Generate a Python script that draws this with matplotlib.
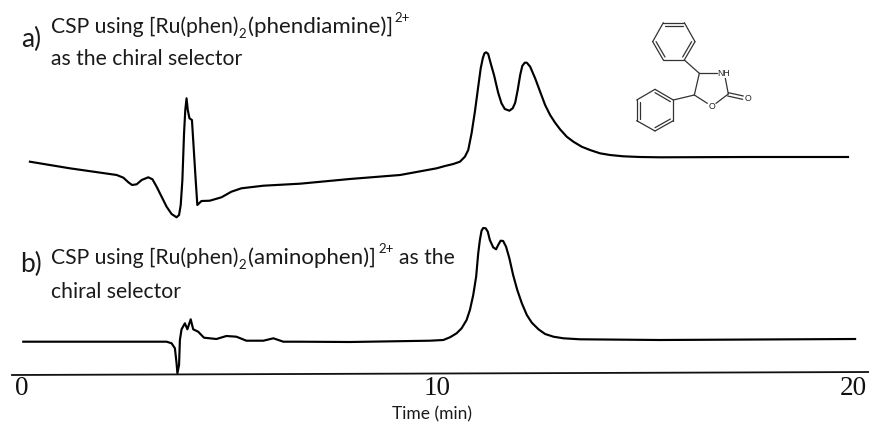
import matplotlib
matplotlib.use("Agg")
import matplotlib.pyplot as plt

time_a = [0.19,1.15,2.28,2.44,2.56,2.65,2.76,2.88,3.04,3.14,3.24,3.36,3.48,3.60,3.72,3.78,3.82,3.86,3.90,3.93,
          3.96,3.99,4.03,4.09,4.14,4.18,4.22,4.32,4.52,4.80,5.04,5.28,5.81,6.69,7.89,9.10,
          9.98,10.18,10.38,10.54,10.66,10.74,10.82,10.90,10.98,11.04,11.09,11.13,11.17,11.22,11.28,11.36,11.46,
          11.54,11.62,11.73,11.81,11.87,11.93,11.99,12.04,12.10,12.15,12.23,12.35,12.47,12.59,12.71,12.83,12.95,
          13.11,13.27,13.47,13.67,13.91,14.15,14.47,14.87,15.35,17.52,19.88]
signal_a = [213.3,206.7,200,197.3,192.7,190,190.7,195,197.7,195.7,188.3,178.3,168.3,161,157.7,160,170,195,241.7,265,
            276.7,265,256.7,255,221.7,195,170,174,174.3,177.7,183.3,186.7,189.3,191.3,196,200,
            206.7,209,211,213.3,218.3,225,241.7,263.3,288.3,306.7,316.7,321.7,322.7,321,311.7,300,282.3,
            271.7,266,264.3,266.7,272.3,285,300,309,312.3,312.3,308.3,296.7,283.3,270,260,252.3,245.7,
            238.3,233.3,228.3,225,221.7,220,218.7,218,217.7,218,218]

time_b = [0.03,3.48,3.60,3.68,3.72,3.74,3.78,3.80,3.84,3.92,3.98,4.06,4.12,4.24,4.38,4.68,4.92,5.16,5.40,5.81,
          6.05,6.29,6.69,7.89,9.82,10.14,10.30,10.46,10.58,10.70,10.78,10.86,10.93,10.98,11.02,11.06,11.10,11.16,
          11.21,11.26,11.34,11.41,11.46,11.52,11.58,11.65,11.73,11.82,11.92,12.03,12.15,12.27,12.43,12.59,12.79,
          13.03,13.43,15.35,20.05]
signal_b = [33.3,33.3,31.7,26.7,11.7,1.7,10,35,45.7,51.7,45.7,55.7,45.7,43.3,37.3,36,39,38.3,34.3,34.3,
            36.7,33.3,33.3,33,34.3,35,37.7,41.7,46.7,55,65,80,98.3,121.7,135,144.3,147,146.7,
            143.3,135,127.7,125.7,130,134.3,134,128.3,116.7,100,85,71.7,60,52.3,45.7,41,38.3,
            36.7,35.7,35,36]

tick_values = [0, 10, 20]
xlabel = 'Time (min)'
label_a = 'a)'
label_b = 'b)'
caption_a = ['CSP using [Ru(phen)', '2', '(phendiamine)]', '2+', 'as the chiral selector']
caption_b = ['CSP using [Ru(phen)', '2', '(aminophen)]', '2+', 'as the', 'chiral selector']

W, H = 870, 424
fig = plt.figure(figsize=(W/100, H/100), dpi=100)

# data axes: full figure, time 0 at px 22, 20 at px 853; signal measured above px 375
ax = fig.add_axes([0, 0, 1, 1])
ppm = 831/20
ax.set_xlim(-22/ppm, (W-22)/ppm)
ax.set_ylim(375-H, 375)
ax.axis('off')
ax.plot(time_a, signal_a, color='black', lw=1.55, solid_joinstyle='round')
ax.plot(time_b, signal_b, color='black', lw=1.55, solid_joinstyle='round')
ax.plot([-10/ppm, (W-22)/ppm], [0, 3], color='#111111', lw=1.3)

for t in tick_values:
    ax.text(t, -1, str(t), family='Liberation Serif', fontsize=19.5, ha='center', va='top', color='#111111')

# overlay in pixel coordinates for annotations
pix = fig.add_axes([0, 0, 1, 1], facecolor='none')
pix.set_xlim(0, W)
pix.set_ylim(H, 0)
pix.axis('off')

TXT = '#1a1a1a'
MAIN = 15.2
def put(x, y, s, size=MAIN):
    pix.text(x, y, s, family='Lato', fontsize=size, va='baseline', color=TXT)

pix.text(432, 419, xlabel, family='Lato', fontsize=12.5, ha='center', va='baseline', color=TXT)
put(21, 47, label_a, 19)
put(20, 272, label_b, 19)

put(51, 33, caption_a[0])
put(238, 38, caption_a[1], 9.5)
put(248, 33, caption_a[2], 16)
put(394, 22, caption_a[3], 9.5)
put(51, 65, caption_a[4])

put(51, 264, caption_b[0])
put(238, 269, caption_b[1], 9.5)
put(248, 264, caption_b[2], 16)
put(378, 253, caption_b[3], 9.5)
put(399, 264, caption_b[4])
put(51, 298, caption_b[5])

# structural formula
def bond(p, q, lw=0.9):
    pix.plot([600+p[0]/3, 600+q[0]/3], [p[1]/3, q[1]/3], color='#333333', lw=lw, solid_capstyle='round')

def ring(pts, doubles):
    n = len(pts)
    cx = sum(p[0] for p in pts)/n
    cy = sum(p[1] for p in pts)/n
    for i in range(n):
        p, q = pts[i], pts[(i+1) % n]
        bond(p, q)
        if i in doubles:
            a = (cx+(p[0]-cx)*0.84, cy+(p[1]-cy)*0.84)
            b = (cx+(q[0]-cx)*0.84, cy+(q[1]-cy)*0.84)
            bond(a, b)

ring([(190,68),(253,68),(285,125),(253,180),(190,180),(158,125)], {0,2,4})
ring([(165,268),(220,300),(220,362),(165,393),(110,362),(110,300)], {0,2,4})
bond((253,180),(298,220))
bond((298,220),(352,220))
bond((376,235),(385,282))
bond((385,282),(348,310))
bond((322,310),(283,285))
bond((283,285),(298,220))
bond((220,300),(283,285))
bond((385,278),(430,288))
bond((383,288),(428,298))
for (x, y, s) in [(370,221,'NH'), (335,320,'O'), (445,295,'O')]:
    pix.text(600+x/3, y/3, s, family='Liberation Sans', fontsize=6.3, ha='center', va='center', color='#222222')

fig.savefig('out.png', dpi=100)
